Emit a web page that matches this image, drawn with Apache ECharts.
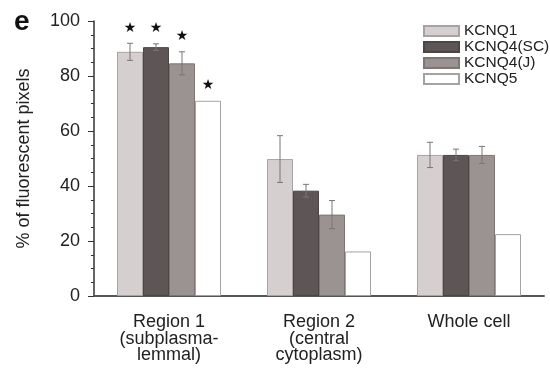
<!DOCTYPE html>
<html>
<head>
<meta charset="utf-8">
<script src="https://cdn.jsdelivr.net/npm/echarts@6/dist/echarts.min.js"></script>
<style>
html,body{margin:0;padding:0;background:#fff;}
#c{width:550px;height:369px;}
</style>
</head>
<body>
<div id="c"></div>
<script>
// ---- data ----
const categories = ['Region 1\n(subplasma-\nlemmal)', 'Region 2\n(central\ncytoplasm)', 'Whole cell'];
const seriesNames = ['KCNQ1', 'KCNQ4(SC)', 'KCNQ4(J)', 'KCNQ5'];
const kcnq1 = [88.8, 49.8, 51.3];
const kcnq4sc = [90.5, 38.3, 51.3];
const kcnq4j = [84.6, 29.6, 51.3];
const kcnq5 = [71.0, 16.2, 22.5];
const err1 = [3.1, 8.5, 4.6];
const err4sc = [1.2, 2.3, 2.1];
const err4j = [4.2, 5.1, 3.1];
const err5 = [0, 0, 0];
const sig1 = [1, 0, 0];
const sig4sc = [1, 0, 0];
const sig4j = [1, 0, 0];
const sig5 = [1, 0, 0];
const yTicks = [0, 20, 40, 60, 80, 100];

// ---- styles ----
const FONT = 'Liberation Sans, Arial, sans-serif';
const BW = 26;
const fills = ['#d5d0cf', '#5e5656', '#9b9391', '#ffffff'];
const borders = ['#a8a3a2', '#4c4545', '#7d7675', '#a3a3a3'];
const values = [kcnq1, kcnq4sc, kcnq4j, kcnq5];
const errs = [err1, err4sc, err4j, err5];
const sigs = [sig1, sig4sc, sig4j, sig5];

const chart = echarts.init(document.getElementById('c'));
const series = [];
values.forEach((v, i) => {
  series.push({
    name: seriesNames[i], type: 'bar', data: v, barWidth: BW, barGap: '0%',
    itemStyle: {color: fills[i], borderColor: borders[i], borderWidth: 1},
    emphasis: {disabled: true}, z: 2
  });
});
values.forEach((v, i) => {
  series.push({
    type: 'custom', name: seriesNames[i] + '_err', z: 5, silent: true,
    data: v.map((m, k) => [k, m, errs[i][k], sigs[i][k]]),
    renderItem: function (params, api) {
      const cat = api.value(0), m = api.value(1), e = api.value(2), s = api.value(3);
      const base = api.coord([cat, m]);
      const x = base[0] + (i - 1.5) * BW;
      const hi = api.coord([cat, m + e])[1];
      const lo = api.coord([cat, m - e])[1];
      const children = [];
      if (e > 0) {
        const st = {stroke: '#7a7474', lineWidth: 1};
        children.push({type: 'line', shape: {x1: x, y1: hi, x2: x, y2: lo}, style: st});
        children.push({type: 'line', shape: {x1: x - 3, y1: hi, x2: x + 3, y2: hi}, style: st});
        children.push({type: 'line', shape: {x1: x - 3, y1: lo, x2: x + 3, y2: lo}, style: st});
      }
      if (s) {
        children.push({type: 'text', style: {text: '★', x: x, y: hi - 15, align: 'center', verticalAlign: 'middle',
          font: '14px DejaVu Sans', fill: '#111'}});
      }
      return {type: 'group', children: children};
    }
  });
});

chart.setOption({
  animation: false,
  backgroundColor: '#fff',
  grid: {left: 94, right: 6, top: 21, bottom: 73},
  graphic: [{type: 'text', left: 14, top: 8, style: {text: 'e', font: 'bold 28px ' + FONT, fill: '#111'}}],
  legend: {
    data: seriesNames, orient: 'vertical', left: 418, top: 18, itemWidth: 35, itemHeight: 10, itemGap: 0,
    icon: 'rect', selectedMode: false,
    textStyle: {fontFamily: FONT, fontSize: 15.5, lineHeight: 15, color: '#222'}
  },
  xAxis: {
    type: 'category', data: categories,
    axisLine: {lineStyle: {color: '#555', width: 2}},
    axisTick: {show: false},
    axisLabel: {fontFamily: FONT, fontSize: 18, color: '#222', lineHeight: 16.5, margin: 18, interval: 0}
  },
  yAxis: {
    type: 'value', min: 0, max: 100, interval: 20,
    name: '% of fluorescent pixels', nameLocation: 'middle', nameRotate: 90, nameGap: 61,
    nameTextStyle: {fontFamily: FONT, fontSize: 18, color: '#222'},
    axisLine: {show: true, lineStyle: {color: '#333', width: 1.5}},
    axisTick: {show: true, length: 6, lineStyle: {color: '#333'}},
    minorTick: {show: true, splitNumber: 4, length: 3, lineStyle: {color: '#333'}},
    splitLine: {show: false},
    axisLabel: {fontFamily: FONT, fontSize: 18, color: '#222', margin: 14,
      formatter: v => (yTicks.indexOf(v) >= 0 ? String(v) : '')}
  },
  series: series
});
</script>
</body>
</html>
